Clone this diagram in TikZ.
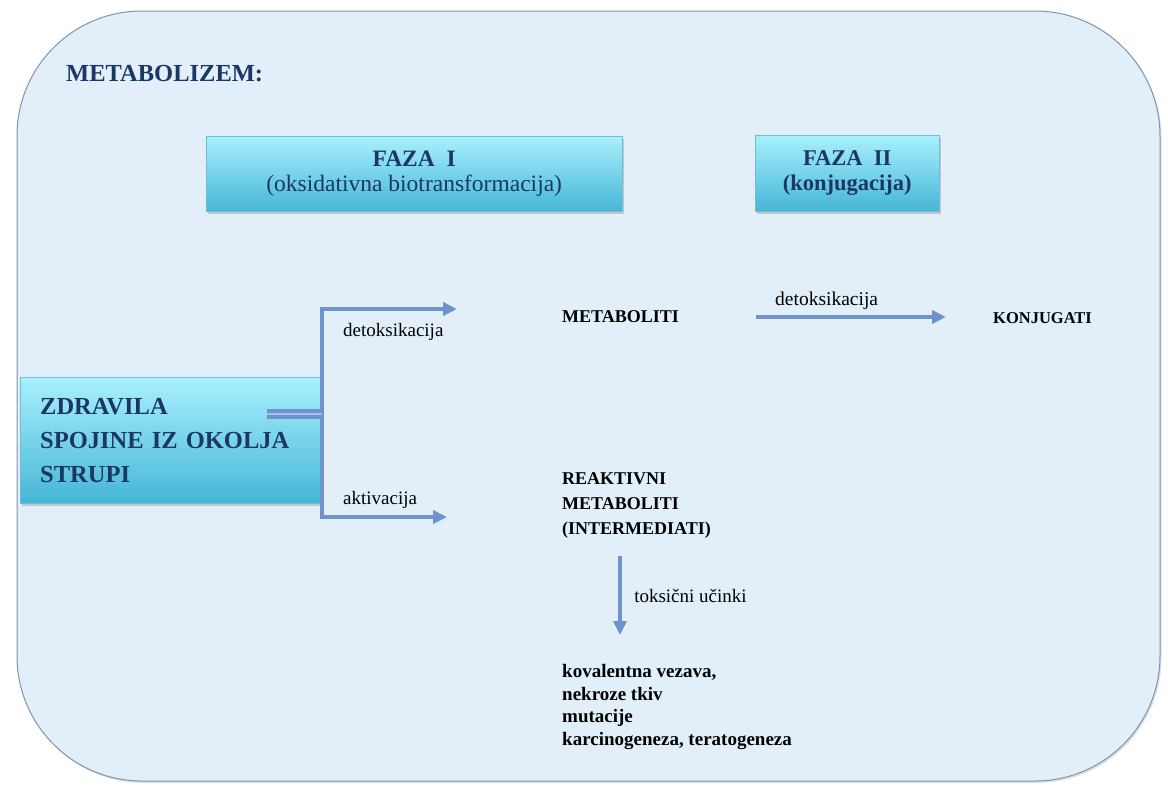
\documentclass[tikz,border=0pt]{standalone}
\usepackage{fontspec}
\setmainfont{Liberation Serif}
\usepackage{xcolor}
\usepackage{tikz}
\usetikzlibrary{positioning}
\usetikzlibrary{arrows.meta}
\usetikzlibrary{shadows}
\definecolor{bgblue}{HTML}{E2EFF8}
\definecolor{frameline}{HTML}{7D93B5}
\definecolor{navy}{HTML}{1A3766}
\definecolor{arrowblue}{HTML}{6C93CC}
\definecolor{boxtop}{HTML}{A8F0FD}
\definecolor{boxbot}{HTML}{46B6D6}
\definecolor{boxline}{HTML}{72BCD6}
\tikzset{edge/.style = {-{Triangle[length=14pt,width=13pt]}, line width=4.5pt, draw=arrowblue}}

\begin{document}
\begin{tikzpicture}[x=1pt,y=-1pt,every node/.style={inner sep=0pt},
    phase/.style={draw=boxline,top color=boxtop,bottom color=boxbot,align=center,text=navy,
        drop shadow={opacity=.35,shadow xshift=1.5pt,shadow yshift=-2.5pt}},
    small label/.style={font=\fontsize{19}{22}\selectfont},
    result/.style={font=\bfseries\fontsize{18}{25}\selectfont}]
    \useasboundingbox (0,0) rectangle (1168,787);
    \draw[draw=frameline,fill=bgblue,line width=1pt,rounded corners=125pt,
        drop shadow={opacity=.25,shadow xshift=1.5pt,shadow yshift=-2pt}] (17,11) rectangle (1160,781);

    \node[anchor=west,text=navy,font=\bfseries\fontsize{24.5}{28}\selectfont] (title) at (66,74) {METABOLIZEM:};

    \node[phase,anchor=north west,minimum width=416pt,minimum height=75pt,font=\fontsize{23.5}{25}\selectfont]
        (faza1) at (206,136) {\textbf{FAZA\ \ I}\\(oksidativna biotransformacija)};
    \node[phase,anchor=north west,minimum width=184pt,minimum height=76pt,font=\bfseries\fontsize{22.5}{25}\selectfont]
        (faza2) at (755,135) {FAZA\ \ II\\(konjugacija)};

    \node[phase,anchor=north west,minimum width=302pt,minimum height=126pt,text width=262pt,inner xsep=20pt,
        align=left,font=\bfseries\fontsize{24.5}{34}\selectfont]
        (zdr) at (20,377) {ZDRAVILA\\SPOJINE IZ OKOLJA\\STRUPI};

    \node[result,anchor=west] (met) at (562,317) {METABOLITI};
    \node[anchor=west,font=\bfseries\fontsize{16.5}{18}\selectfont] (konj) at (993,318) {KONJUGATI};
    \node[result,anchor=north west,align=left] (reakt) at (562,472) {REAKTIVNI\\METABOLITI\\(INTERMEDIATI)};
    \node[anchor=north west,align=left,font=\bfseries\fontsize{19}{22.7}\selectfont]
        (effects) at (562,664) {kovalentna vezava,\\nekroze tkiv\\mutacije\\karcinogeneza, teratogeneza};

    % razcep iz zdravil
    \coordinate (src) at (267,414);
    \coordinate (fork) at (322,414);
    \coordinate (det end) at (457,309);
    \coordinate (akt end) at (447,517);
    \draw[edge] (fork) |- (det end);
    \draw[edge] (fork) |- (akt end);
    \draw[draw=arrowblue,line width=4pt,double=arrowblue!60,double distance=2pt] (src) -- (fork);
    \node[small label,anchor=west] (det lab) at (343,332) {detoksikacija};
    \node[small label,anchor=west] (akt lab) at (343,500) {aktivacija};

    \path (met.east) edge[edge,shorten <=77pt,shorten >=47pt]
        node[pos=.47,above=5pt,font=\fontsize{19.5}{22}\selectfont] (conj lab) {detoksikacija} (konj.west |- met.east);

    \coordinate (tox start) at (620,556);
    \coordinate (tox end) at (620,635);
    \draw[edge] (tox start) -- (tox end) node[midway,right=12pt,small label] (tox lab) {toksični učinki};
\end{tikzpicture}
\end{document}
